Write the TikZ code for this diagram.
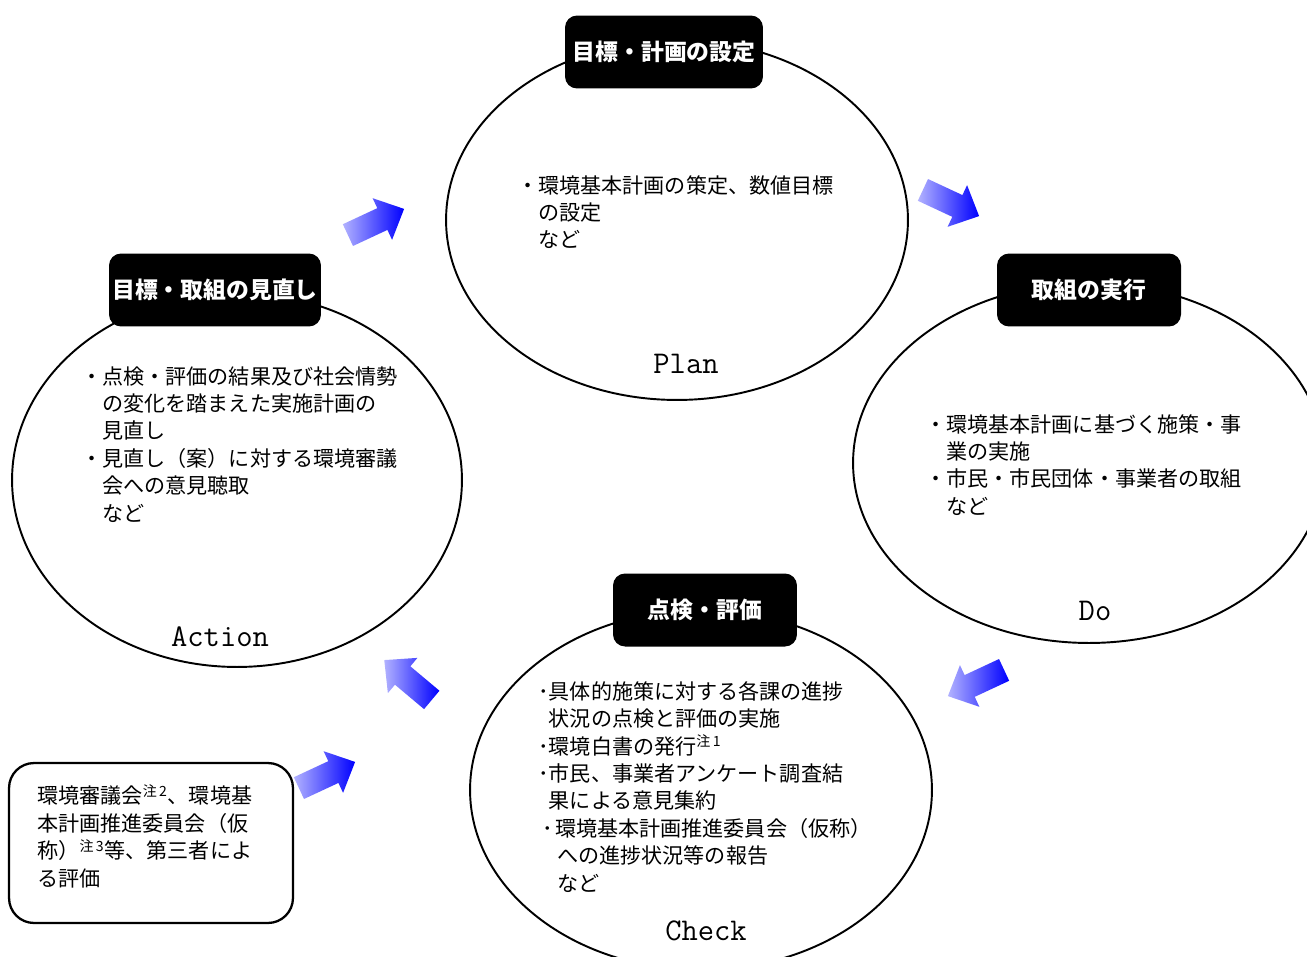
\documentclass[tikz,border=0pt]{standalone}
\usepackage{fontspec}
\newfontfamily\jpfont{Noto Sans CJK JP}
\usepackage{xcolor}
\usetikzlibrary{shapes.geometric}
\usetikzlibrary{positioning}
\definecolor{arrowlight}{RGB}{178,178,255}
\definecolor{arrowdark}{RGB}{0,0,255}
\tikzset{
	phase/.style={draw, ellipse, line width=1.1pt, inner sep=0pt},
	phasetitle/.style={fill=black, rounded corners=0.24cm, text=white, minimum height=1.46cm,
			inner sep=0pt, font=\jpfont\bfseries\fontsize{13}{15}\selectfont},
	phaselabel/.style={font=\ttfamily\fontsize{18}{21}\selectfont, inner sep=0pt},
	items/.style={anchor=north west, align=left, inner sep=0pt,
			font=\jpfont\fontsize{12}{15.6}\selectfont},
	flow/.style={draw=none, left color=arrowlight, right color=arrowdark}
}
\newcommand{\blockarrow}[2]{%
	\path[flow, shift={#1}, rotate=#2] (-31,-12) -- (7,-12) -- (7,-23) -- (31,0) -- (7,23) -- (7,12) -- (-31,12) -- cycle;}

\begin{document}
\begin{tikzpicture}[x=0.02cm, y=-0.02cm]
			\useasboundingbox (0,0) rectangle (1307,956);
			\clip (0,0) rectangle (1307,956);
			% the four phases
			\node[phase, minimum width=9.24cm, minimum height=7.2cm] (plan) at (677,220) {};
			\node[phase, minimum width=9.44cm, minimum height=7.2cm] (do) at (1089,463) {};
			\node[phase, minimum width=9.24cm, minimum height=7.2cm] (check) at (701,790) {};
			\node[phase, minimum width=9.0cm, minimum height=7.48cm] (act) at (237,480) {};
			\node[phasetitle, minimum width=3.96cm] (plantitle) at (664,52) {目標・計画の設定};
			\node[phasetitle, minimum width=3.68cm] (dotitle) at (1089,290) {取組の実行};
			\node[phasetitle, minimum width=3.68cm] (checktitle) at (705,610) {点検・評価};
			\node[phasetitle, minimum width=4.24cm] (acttitle) at (215,290) {目標・取組の見直し};
			\node[phaselabel] (planlabel) at (686,364) {Plan};
			\node[phaselabel] (dolabel) at (1095,611) {Do};
			\node[phaselabel] (checklabel) at (706,931) {Check};
			\node[phaselabel] (actlabel) at (220,637) {Action};
			% contents
			\node[items] (planitems) at (517,175) {・環境基本計画の策定、数値目標\\　の設定\\　など};
			\node[items] (doitems) at (925,414) {・環境基本計画に基づく施策・事\\　業の実施\\・市民・市民団体・事業者の取組\\　など};
			\node[items] (checkitems) at (538,681) {･具体的施策に対する各課の進捗\\\hspace*{0.5em}状況の点検と評価の実施\\･環境白書の発行\textsuperscript{注\,1}\\･市民、事業者アンケート調査結\\\hspace*{0.5em}果による意見集約\\\hspace*{0.2em}･\hspace*{0.1em}環境基本計画推進委員会（仮称）\\\hspace*{0.9em}への進捗状況等の報告\\\hspace*{0.9em}など};
			\node[items] (actitems) at (81,366) {・点検・評価の結果及び社会情勢\\　の変化を踏まえた実施計画の\\　見直し\\・見直し（案）に対する環境審議\\　会への意見聴取\\　など};
			% third party
			\node[draw, line width=1.3pt, rounded corners=0.5cm, minimum width=5.68cm, minimum height=3.2cm] (third) at (151,843) {};
			\node[items] (thirdtext) at (37,784) {環境審議会\textsuperscript{注\,2}、環境基\\本計画推進委員会（仮\\称）\textsuperscript{注\,3}等、第三者によ\\る評価};
			% cycle arrows
			\blockarrow{(376,222)}{25}
			\blockarrow{(951,203)}{-25}
			\blockarrow{(976,683)}{205}
			\blockarrow{(408,680)}{140}
			\blockarrow{(327,775)}{25}
		\end{tikzpicture}
\end{document}
